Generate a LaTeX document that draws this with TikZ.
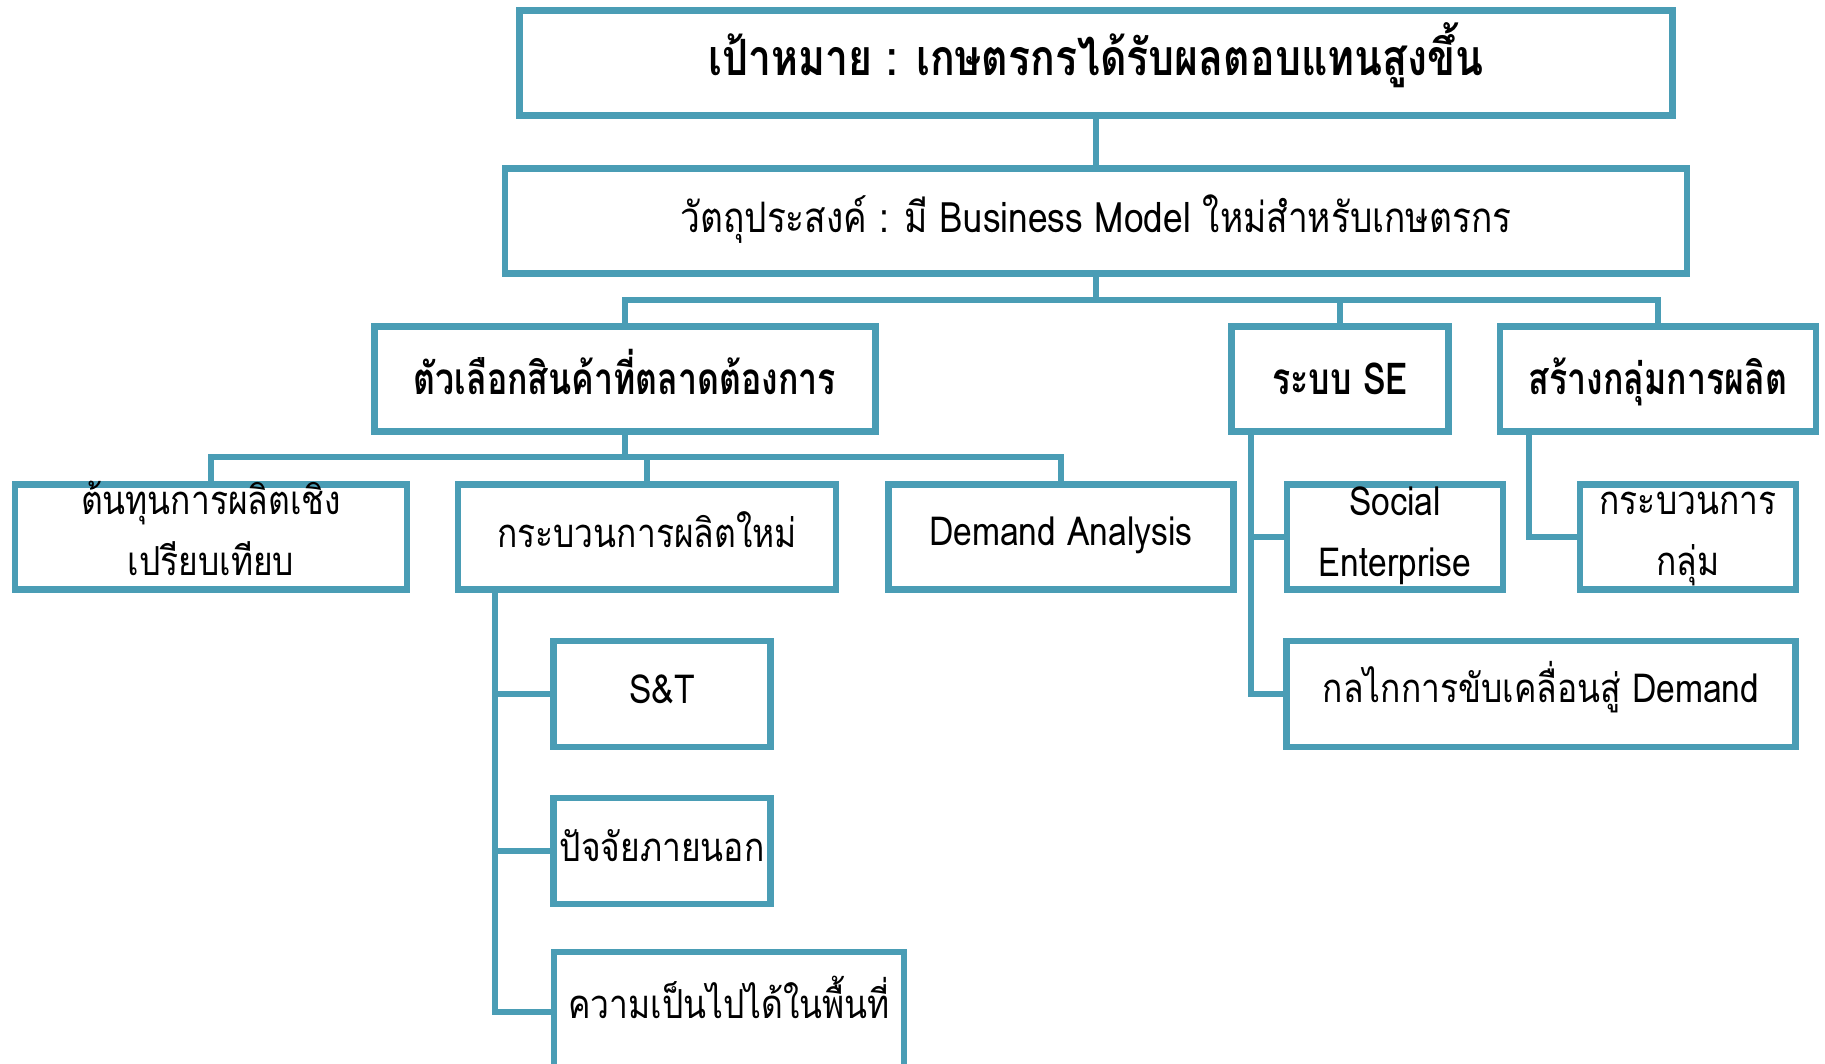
\documentclass[tikz,border=0pt]{standalone}
\usepackage{fontspec}
\setmainfont[Script=Thai, FakeStretch=0.84]{Loma}
\newfontfamily\goalfont[Script=Thai, FakeStretch=0.82]{Loma}
\newfontfamily\levfont[Script=Thai, FakeStretch=0.77]{Loma}
\definecolor{lc}{RGB}{74,157,181}
\newcommand\twol[2]{\begin{tabular}[b]{@{}c@{}}#1\\#2\end{tabular}}
\tikzset{
  box/.style={draw=lc, line width=6.5pt, inner sep=0pt, align=center, fill=white, text=black},
  conn/.style={draw=lc, line width=6.5pt},
  bl/.style={text depth=20pt, text height=#1},
  bltwo/.style={text depth=10pt, text height=#1},
  fgoal/.style={font=\goalfont\bfseries\fontsize{50}{60}\selectfont},
  fobj/.style={font=\fontsize{42}{52}\selectfont},
  flev/.style={font=\levfont\bfseries\fontsize{44}{54}\selectfont},
  fsub/.style={font=\fontsize{40}{61}\selectfont},
}
\begin{document}
\begin{tikzpicture}[x=1pt,y=-1pt]
\useasboundingbox (0,0) rectangle (1825,1064);
\clip (0,0) rectangle (1825,1064);
% level 0 / 1
\node[box,fgoal,bl=46pt,minimum width=1153,minimum height=105] (goal) at (1096,63) {เป้าหมาย : เกษตรกรได้รับผลตอบแทนสูงขึ้น};
\node[box,fobj,bl=44pt,minimum width=1182,minimum height=105] (obj) at (1096,221) {วัตถุประสงค์ : มี Business Model ใหม่สำหรับเกษตรกร};
% level 2
\node[box,flev,bl=50pt,minimum width=501,minimum height=105] (A) at (625,379) {ตัวเลือกสินค้าที่ตลาดต้องการ};
\node[box,flev,bl=50pt,minimum width=217,minimum height=105] (B) at (1340,379) {ระบบ SE};
\node[box,flev,bl=50pt,minimum width=316,minimum height=105] (C) at (1658,379) {สร้างกลุ่มการผลิต};
% level 3
\node[box,fsub,bltwo=86pt,minimum width=392,minimum height=105] (D) at (211,537) {\twol{ต้นทุนการผลิตเชิง}{เปรียบเทียบ}};
\node[box,fsub,bl=40pt,minimum width=378,minimum height=105] (E) at (647,537) {กระบวนการผลิตใหม่};
\node[box,fsub,bl=37pt,minimum width=345,minimum height=105] (F) at (1061,537) {Demand Analysis};
\node[box,fsub,bltwo=88pt,minimum width=216,minimum height=105] (G) at (1395,537) {\twol{Social}{Enterprise}};
\node[box,fsub,bltwo=86pt,minimum width=216,minimum height=105] (H) at (1688,537) {\twol{กระบวนการ}{กลุ่ม}};
% level 4
\node[box,fsub,bl=38pt,minimum width=217,minimum height=106] (ST) at (662,694) {S\&T};
\node[box,fsub,bl=40pt,minimum width=217,minimum height=106] (EX) at (662,851) {ปัจจัยภายนอก};
\node[box,fsub,bl=32pt,minimum width=350,minimum height=120] (AR) at (729,1012) {ความเป็นไปได้ในพื้นที่};
\node[box,fsub,bl=36pt,minimum width=509,minimum height=106] (ME) at (1541,694) {กลไกการขับเคลื่อนสู่ Demand};
% connectors
\coordinate (j1) at (1096,300);
\coordinate (j2) at (625,457);
\coordinate (tE) at (495,592);
\coordinate (tB) at (1251,434);
\coordinate (tC) at (1529,434);
\draw[conn] (goal.south) -- (obj.north);
\draw[conn] (obj.south) -- (j1);
\draw[conn] (A.north) -- (A.north |- j1) -- (C.north |- j1) -- (C.north);
\draw[conn] (B.north) -- (B.north |- j1);
\draw[conn] (A.south) -- (j2);
\draw[conn] (D.north) -- (D.north |- j2) -- (F.north |- j2) -- (F.north);
\draw[conn] (E.north) -- (E.north |- j2);
\draw[conn] (tE) |- (AR.west);
\draw[conn] (tE |- ST.west) -- (ST.west);
\draw[conn] (tE |- EX.west) -- (EX.west);
\draw[conn] (tB) |- (ME.west);
\draw[conn] (tB |- G.west) -- (G.west);
\draw[conn] (tC) |- (H.west);
\end{tikzpicture}
\end{document}
